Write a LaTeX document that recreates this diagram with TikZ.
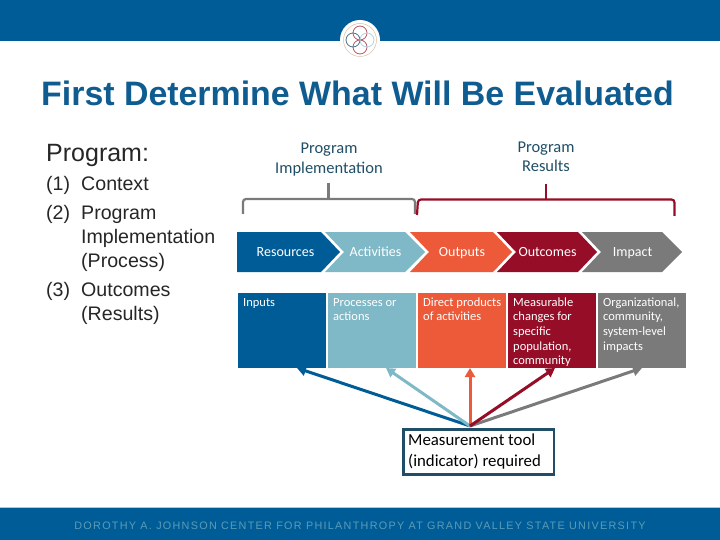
\documentclass[tikz,border=0pt]{standalone}
\usepackage{fontspec}
\setmainfont{Liberation Sans}
\newfontfamily\carl{Carlito}
\usetikzlibrary{arrows.meta}
\definecolor{cblue}{HTML}{005C97}
\definecolor{cteal}{HTML}{7FB8C6}
\definecolor{corange}{HTML}{EC5A3A}
\definecolor{cred}{HTML}{950D27}
\definecolor{cgray}{HTML}{7A7A7A}
\definecolor{cnavy}{HTML}{1F4E66}
\definecolor{ctitle}{HTML}{0F5C90}
\tikzset{
  x=1pt,y=-1pt,
  chev/.style={fill=#1,draw=none},
  lab/.style={font=\carl\fontsize{14}{14}\selectfont,text=white,anchor=base,inner sep=0},
  infobox/.style={fill=#1,draw=none,minimum width=88pt,minimum height=75pt,anchor=north west,inner sep=0},
  info/.style={font=\carl\fontsize{12.5}{14.7}\selectfont,text=white,anchor=base west,align=left,inner sep=0},
  head/.style={font=\carl\fontsize{16.5}{19.5}\selectfont,text=cnavy,align=center,inner sep=0,anchor=base},
  brace/.style={line width=2.2pt,draw=#1,rounded corners=3pt},
  ptr/.style={line width=3pt,draw=#1,-{Triangle[length=9pt,width=10pt]}},
  ltxt/.style={font=\fontsize{19.6}{24}\selectfont,text=black!85,anchor=base west,align=left,inner sep=0}
}
\begin{document}
\begin{tikzpicture}
\useasboundingbox (0,0) rectangle (720,540);
% bands
\fill[cblue] (0,0) rectangle (720,41);
\fill[cblue] (0,508) rectangle (720,540);
\draw[cteal!70,line width=0.7pt] (0,507.5) -- (720,507.5);
% logo
\node[circle,fill=white,minimum size=40pt,inner sep=0] (logo) at (360,40) {};
\draw[brown!50,line width=0.5pt] (logo) circle (16.5);
\draw[cred!70,line width=0.8pt] (360,33) circle (7) (360,47) circle (7);
\draw[cnavy!80,line width=0.8pt] (353,40) circle (7);
\draw[cteal!60,line width=0.8pt] (367,40) circle (7);
% title
\node[font=\bfseries\fontsize{33.9}{33.9}\selectfont,text=ctitle,anchor=base,inner sep=0] (title) at (357.5,105.5) {First Determine What Will Be Evaluated};
% left text
\node[ltxt,font=\fontsize{25}{25}\selectfont] (prog) at (46,161.5) {Program:};
\node[ltxt] (n1) at (46,190.5) {(1)};
\node[ltxt] (n1t) at (81,190.5) {Context};
\node[ltxt] (n2) at (46,219.5) {(2)};
\node[ltxt] (n2t) at (81,219.5) {Program};
\node[ltxt] (n2b) at (81,243.5) {Implementation};
\node[ltxt] (n2c) at (81,267.5) {(Process)};
\node[ltxt] (n3) at (46,296.5) {(3)};
\node[ltxt] (n3t) at (81,296.5) {Outcomes};
\node[ltxt] (n3b) at (81,320.5) {(Results)};
% headings
\node[head] (hA) at (329,173.5) {Program\\Implementation};
\node[head] (hB) at (546,172) {Program\\Results};
% braces
\coordinate (gt) at (328.5,183);
\coordinate (rt) at (546,184);
\draw[brace=cgray] (243,214) -- (243,199) -- (415,199) -- (415,214);
\draw[line width=2.2pt,draw=cgray] (gt) -- (328.5,199);
\draw[brace=cred] (417,215) -- (418,199.5) -- (674.5,199.5) -- (674.5,216);
\draw[line width=2.2pt,draw=cred] (rt) -- (546,199.5);
% chevrons
\fill[chev=cblue] (237,232) -- (321,232) -- (340,252) -- (321,272) -- (237,272) -- cycle;
\fill[chev=cteal] (325,232) -- (405,232) -- (425,252) -- (405,272) -- (325,272) -- (344,252) -- cycle;
\fill[chev=corange] (410,232) -- (493,232) -- (512,252) -- (493,272) -- (410,272) -- (429,252) -- cycle;
\fill[chev=cred] (497,232) -- (578,232) -- (597,252) -- (578,272) -- (497,272) -- (516,252) -- cycle;
\fill[chev=cgray] (582,232) -- (662,232) -- (682,252) -- (662,272) -- (582,272) -- (601,252) -- cycle;
\node[lab] (c1) at (285.5,256) {Resources};
\node[lab] (c2) at (375.5,256) {Activities};
\node[lab] (c3) at (462,256) {Outputs};
\node[lab] (c4) at (547.5,256) {Outcomes};
\node[lab] (c5) at (632.5,256) {Impact};
% boxes
\node[infobox=cblue] (b1) at (238,293) {};
\node[infobox=cteal] (b2) at (328,293) {};
\node[infobox=corange] (b3) at (418,293) {};
\node[infobox=cred] (b4) at (508,293) {};
\node[infobox=cgray] (b5) at (598,293) {};
\node[info] (i1) at (243,306) {Inputs};
\node[info] (i2) at (333,320.7) {Processes or\\actions};
\node[info] (i3) at (423,320.7) {Direct products\\of activities};
\node[info] (i4) at (513,364.8) {Measurable\\changes for\\specific\\population,\\community};
\node[info] (i5) at (603,350.1) {Organizational,\\community,\\system-level\\impacts};
% measurement box
\node[draw=cnavy,line width=2.6pt,fill=white,minimum width=150.5pt,minimum height=45pt,inner sep=0,anchor=north west] (m) at (402.3,428.3) {};
\node[font=\carl\fontsize{16.8}{20.5}\selectfont,text=black,anchor=base west,align=left,inner sep=0] (mt) at (408,466) {Measurement tool\\(indicator) required};
% arrows
\coordinate (o) at (470,426);
\draw[ptr=cblue] (o) -- (297,368);
\draw[ptr=cteal] (o) -- (386,368);
\draw[ptr=corange] (o) -- (470,368);
\draw[ptr=cgray] (o) -- (642,368);
\draw[ptr=cred] (o) -- (555,368);
% footer
\node[font=\fontsize{10.8}{10.8}\selectfont,text=cteal!70!cblue,anchor=center,inner sep=0] (foot) at (360,525.5) {\addfontfeatures{LetterSpace=12}DOROTHY A. JOHNSON CENTER FOR PHILANTHROPY AT GRAND VALLEY STATE UNIVERSITY};
\end{tikzpicture}
\end{document}
